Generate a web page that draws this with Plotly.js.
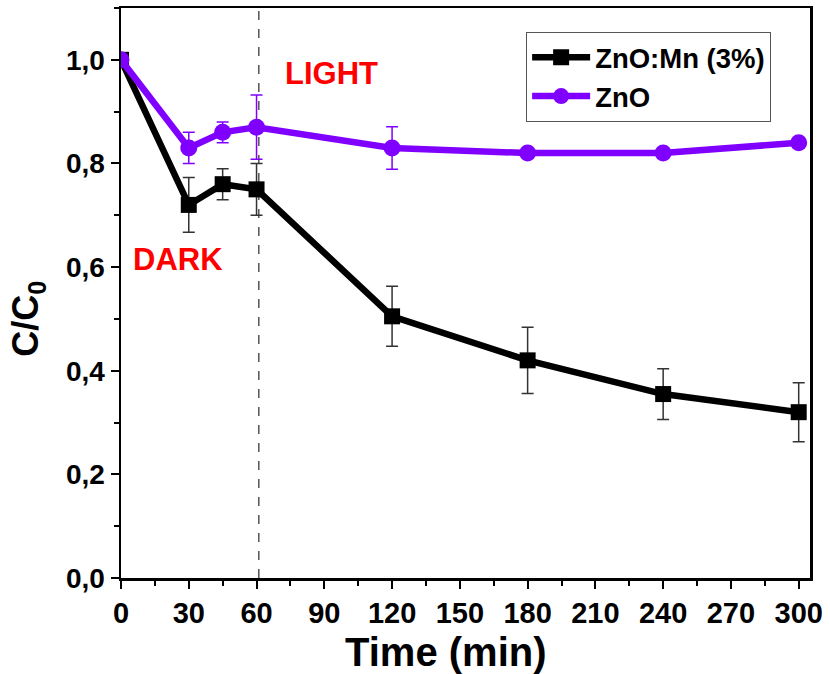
<!DOCTYPE html>
<html>
<head>
<meta charset="utf-8">
<script src="https://cdn.plot.ly/plotly-3.0.1.min.js"></script>
<style>html,body{margin:0;padding:0;background:#fff;}#chart{width:830px;height:674px;}</style>
</head>
<body>
<div id="chart"></div>
<script>
const time = [0, 30, 45, 60, 120, 180, 240, 300];
const znoMn = [1.0, 0.72, 0.76, 0.75, 0.505, 0.42, 0.355, 0.32];
const znoMnErr = [0, 0.053, 0.03, 0.05, 0.058, 0.064, 0.049, 0.057];
const zno = [1.0, 0.83, 0.86, 0.87, 0.83, 0.82, 0.82, 0.84];
const znoErr = [0, 0.03, 0.02, 0.062, 0.041, 0, 0, 0];
const seriesNames = ['ZnO:Mn (3%)', 'ZnO'];
const xTicks = [0, 30, 60, 90, 120, 150, 180, 210, 240, 270, 300];
const yTicks = [0, 0.2, 0.4, 0.6, 0.8, 1.0];
const darkLightSplit = 61;
const xTitle = 'Time (min)';
const yTitle = 'C/C<sub>0</sub>';

const FONT = 'Arial, "Liberation Sans", sans-serif';
const purple = '#8000ff';

const traces = [
  {
    x: time, y: znoMn, name: seriesNames[0], type: 'scatter', mode: 'lines+markers',
    line: {color: '#000', width: 6.5},
    marker: {symbol: 'square', size: 16, color: '#000'},
    error_y: {type: 'data', array: znoMnErr, visible: true, color: '#333', thickness: 1.5, width: 6}
  },
  {
    x: time, y: zno, name: seriesNames[1], type: 'scatter', mode: 'lines+markers',
    line: {color: purple, width: 6.5},
    marker: {symbol: 'circle', size: 17, color: purple},
    error_y: {type: 'data', array: znoErr, visible: true, color: purple, thickness: 1.5, width: 6}
  }
];

const layout = {
  width: 830, height: 674,
  margin: {l: 121, r: 20, t: 8, b: 96},
  paper_bgcolor: '#fff', plot_bgcolor: '#fff',
  separators: ', ',
  showlegend: true,
  font: {family: FONT, color: '#000', weight: 'bold'},
  xaxis: {
    range: [0, 305], tickvals: xTicks, ticktext: xTicks.map(String),
    showgrid: false, zeroline: false,
    showline: true, linecolor: '#000', linewidth: 2.5, mirror: true,
    ticks: 'outside', ticklen: 8, tickwidth: 2, tickcolor: '#000',
    minor: {dtick: 15, tick0: 0, ticks: 'outside', ticklen: 5, tickwidth: 2, tickcolor: '#000'},
    tickfont: {family: FONT, size: 29, color: '#000', weight: 'bold'}
  },
  yaxis: {
    range: [0, 1.1], tickvals: yTicks, tickformat: '.1f',
    showgrid: false, zeroline: false,
    showline: true, linecolor: '#000', linewidth: 2.5, mirror: true,
    ticks: 'outside', ticklen: 8, tickwidth: 2, tickcolor: '#000',
    minor: {dtick: 0.1, tick0: 0, ticks: 'outside', ticklen: 5, tickwidth: 2, tickcolor: '#000'},
    tickfont: {family: FONT, size: 28, color: '#000', weight: 'bold'}
  },
  legend: {
    x: 0.588, y: 0.958, xanchor: 'left', yanchor: 'top',
    bgcolor: '#fff', bordercolor: '#555', borderwidth: 1,
    font: {family: FONT, size: 27.5, color: '#000', weight: 'bold'},
    itemwidth: 58, tracegroupgap: 0
  },
  shapes: [
    {type: 'line', xref: 'x', yref: 'paper', x0: darkLightSplit, x1: darkLightSplit, y0: 0, y1: 1,
     line: {color: '#555', width: 1.5, dash: 'dash'}, layer: 'below'}
  ],
  annotations: [
    {x: 93, y: 0.974, xref: 'x', yref: 'y', text: 'LIGHT', showarrow: false,
     font: {family: FONT, size: 31, color: '#ff0000', weight: 'bold'}},
    {x: 25.3, y: 0.614, xref: 'x', yref: 'y', text: 'DARK', showarrow: false,
     font: {family: FONT, size: 31, color: '#ff0000', weight: 'bold'}},
    {x: 0.472, y: -0.088, xref: 'paper', yref: 'paper', text: xTitle, showarrow: false,
     xanchor: 'center', yanchor: 'top',
     font: {family: FONT, size: 40, color: '#000', weight: 'bold'}},
    {x: -0.135, y: 0.455, xref: 'paper', yref: 'paper', text: yTitle, showarrow: false,
     textangle: -90, xanchor: 'center', yanchor: 'middle',
     font: {family: FONT, size: 36, color: '#000', weight: 'bold'}}
  ]
};

Plotly.newPlot('chart', traces, layout, {displayModeBar: false, staticPlot: true});
</script>
</body>
</html>
